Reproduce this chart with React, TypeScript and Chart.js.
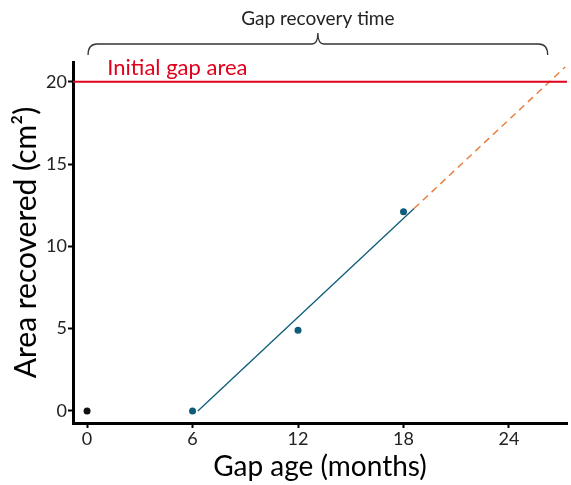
import { useEffect, useRef } from "react";
import { Chart, registerables } from "chart.js";
Chart.register(...registerables);

const AGE_MONTHS = [0, 6, 12, 18];
const AREA_RECOVERED = [0, 0, 4.9, 12.1];
const POINT_COLORS = ["#111111", "#0d5c7a", "#0d5c7a", "#0d5c7a"];
const FIT_X = [6.3, 18.6];
const FIT_Y = [0, 12.3];
const EXTRAP_X = [18.6, 27.2];
const EXTRAP_Y = [12.3, 20.9];
const INITIAL_AREA = 20;
const X_TICKS = [0, 6, 12, 18, 24];
const Y_TICKS = [0, 5, 10, 15, 20];
const RECOVERY_START = 0;
const RECOVERY_END = 26.2;
const X_MIN = -0.8;
const X_MAX = 27.3;
const Y_MIN = -0.73;
const Y_MAX = 21.2;

const FONT = "Lato, 'Open Sans', sans-serif";

const annotations = {
  id: "annotations",
  afterDraw(chart: any) {
    const { ctx, scales } = chart;
    const xs = scales.x;
    const ys = scales.y;
    ctx.save();
    // Initial gap area label
    ctx.fillStyle = "#e0001b";
    ctx.font = `22px ${FONT}`;
    ctx.textAlign = "left";
    ctx.textBaseline = "alphabetic";
    ctx.fillText("Initial gap area", xs.getPixelForValue(1.15), ys.getPixelForValue(INITIAL_AREA) - 7);
    // Bracket
    const x0 = xs.getPixelForValue(RECOVERY_START) + 1;
    const x1 = xs.getPixelForValue(RECOVERY_END);
    const xm = (x0 + x1) / 2;
    const yb = 55;
    const yh = 44;
    const yp = 33;
    const r = 9;
    ctx.strokeStyle = "#333";
    ctx.lineWidth = 1.3;
    ctx.beginPath();
    ctx.moveTo(x0, yb);
    ctx.quadraticCurveTo(x0, yh, x0 + r, yh);
    ctx.lineTo(xm - 6, yh);
    ctx.quadraticCurveTo(xm, yh, xm, yp);
    ctx.quadraticCurveTo(xm, yh, xm + 6, yh);
    ctx.lineTo(x1 - r, yh);
    ctx.quadraticCurveTo(x1, yh, x1, yb);
    ctx.stroke();
    ctx.fillStyle = "#222";
    ctx.font = `19px ${FONT}`;
    ctx.textAlign = "center";
    ctx.fillText("Gap recovery time", xm, 25);
    ctx.restore();
  },
};

export default function App() {
  const ref = useRef<HTMLCanvasElement>(null);
  useEffect(() => {
    document.body.style.margin = "0";
    const chart = new Chart(ref.current!, {
      type: "scatter",
      data: {
        datasets: [
          {
            label: "initial",
            data: [
              { x: X_MIN, y: INITIAL_AREA },
              { x: X_MAX, y: INITIAL_AREA },
            ],
            showLine: true,
            borderColor: "#e0001b",
            borderWidth: 2,
            pointRadius: 0,
          },
          {
            label: "extrapolation",
            data: EXTRAP_X.map((x, i) => ({ x, y: EXTRAP_Y[i] })),
            showLine: true,
            borderColor: "#e8803f",
            borderWidth: 1.5,
            borderDash: [7, 5],
            pointRadius: 0,
          },
          {
            label: "fit",
            data: FIT_X.map((x, i) => ({ x, y: FIT_Y[i] })),
            showLine: true,
            borderColor: "#0d5c7a",
            borderWidth: 1.3,
            pointRadius: 0,
          },
          {
            label: "observed",
            data: AGE_MONTHS.map((x, i) => ({ x, y: AREA_RECOVERED[i] })),
            showLine: false,
            pointRadius: 3.5,
            pointBackgroundColor: POINT_COLORS,
            pointBorderColor: POINT_COLORS,
            pointBorderWidth: 0,
          },
        ],
      },
      options: {
        animation: false,
        responsive: false,
        devicePixelRatio: 1,
        layout: { padding: { top: 62, right: 3, left: 0, bottom: 0 } },
        plugins: { legend: { display: false }, tooltip: { enabled: false } },
        scales: {
          x: {
            type: "linear",
            min: X_MIN,
            max: X_MAX,
            afterBuildTicks: (s: any) => {
              s.ticks = X_TICKS.map((v) => ({ value: v }));
            },
            afterFit: (s: any) => {
              s.height = 62;
            },
            ticks: { color: "#222", font: { family: FONT, size: 18 }, padding: 0 },
            grid: { drawOnChartArea: false, drawTicks: true, tickLength: 5, tickColor: "#000", tickWidth: 2 },
            border: { display: true, color: "#000", width: 3 },
            title: {
              display: true,
              text: "Gap age (months)",
              color: "#000",
              font: { family: FONT, size: 28 },
              padding: { top: 0, bottom: 1 },
            },
          },
          y: {
            type: "linear",
            min: Y_MIN,
            max: Y_MAX,
            afterBuildTicks: (s: any) => {
              s.ticks = Y_TICKS.map((v) => ({ value: v }));
            },
            afterFit: (s: any) => {
              s.width = 73;
            },
            ticks: { color: "#222", font: { family: FONT, size: 18 }, padding: 1 },
            grid: { drawOnChartArea: false, drawTicks: true, tickLength: 5, tickColor: "#000", tickWidth: 2 },
            border: { display: true, color: "#000", width: 3 },
            title: {
              display: true,
              text: "Area recovered (cm²)",
              color: "#000",
              font: { family: FONT, size: 30 },
              padding: { top: 8, bottom: 0 },
            },
          },
        },
      },
      plugins: [annotations],
    });
    return () => chart.destroy();
  }, []);
  return <canvas ref={ref} width={571} height={485} style={{ display: "block" }} />;
}
